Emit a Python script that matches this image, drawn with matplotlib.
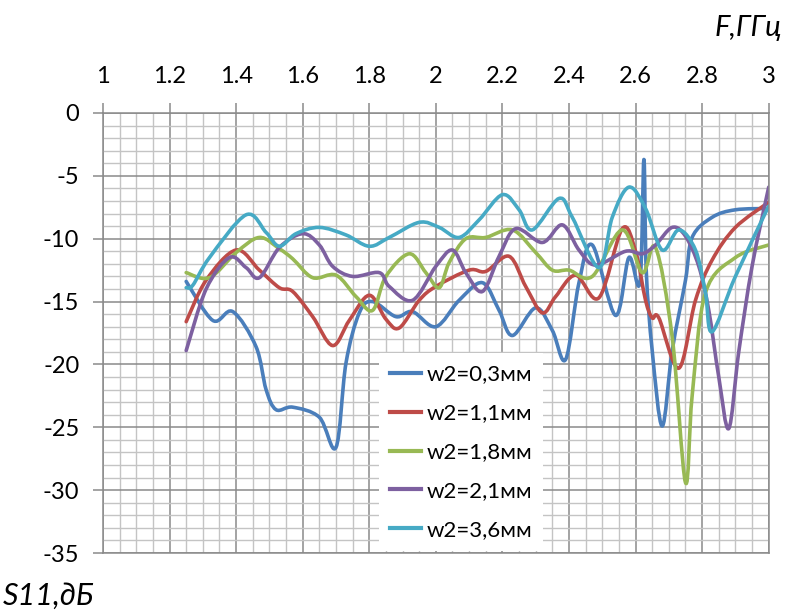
import numpy as np
import matplotlib
matplotlib.use("Agg")
import matplotlib.pyplot as plt
from matplotlib.path import Path
from matplotlib.patches import PathPatch
from matplotlib.lines import Line2D

plt.rcParams['font.family'] = ['Lato', 'DejaVu Sans']

# --- data (F in GHz, S11 in dB) ---
f_03 = [1.25, 1.33, 1.39, 1.46, 1.49, 1.52, 1.57, 1.65, 1.70, 1.73, 1.77, 1.81, 1.88, 1.93,
        2.00, 2.07, 2.14, 2.19, 2.23, 2.30, 2.35, 2.39, 2.43, 2.47, 2.54, 2.58, 2.613, 2.625,
        2.632, 2.65, 2.68, 2.71, 2.75, 2.77, 2.83, 2.90, 3.00]
s_03 = [-13.4, -16.5, -15.8, -18.6, -22.0, -23.6, -23.4, -24.2, -26.6, -19.9, -15.9, -15.0, -16.2, -15.8,
        -17.0, -14.9, -13.5, -15.7, -17.7, -15.5, -17.3, -19.6, -13.5, -10.5, -16.1, -11.5, -13.5, -3.7,
        -12.5, -18.9, -24.9, -18.9, -13.3, -9.9, -8.3, -7.7, -7.6]

f_11 = [1.25, 1.31, 1.40, 1.47, 1.53, 1.57, 1.63, 1.69, 1.74, 1.80, 1.85, 1.89, 1.95, 2.00,
        2.10, 2.15, 2.22, 2.27, 2.32, 2.36, 2.42, 2.49, 2.56, 2.60, 2.63, 2.65, 2.67, 2.73,
        2.78, 2.83, 2.90, 3.00]
s_11 = [-16.6, -13.3, -10.9, -12.5, -13.9, -14.2, -16.2, -18.5, -16.5, -14.5, -16.4, -17.1, -14.9, -13.8,
        -12.5, -12.6, -11.4, -13.8, -15.9, -14.6, -12.9, -14.7, -9.2, -11.0, -14.9, -16.3, -16.3, -20.3,
        -14.9, -11.7, -9.1, -7.1]

f_18 = [1.25, 1.32, 1.40, 1.47, 1.53, 1.57, 1.63, 1.70, 1.76, 1.81, 1.85, 1.92, 1.97, 2.01,
        2.04, 2.09, 2.15, 2.23, 2.30, 2.35, 2.40, 2.47, 2.56, 2.62, 2.66, 2.71, 2.75, 2.77,
        2.81, 2.90, 3.00]
s_18 = [-12.7, -13.1, -11.1, -9.9, -10.8, -11.6, -13.1, -12.9, -14.6, -15.7, -13.0, -11.2, -12.7, -13.9,
        -11.9, -10.0, -9.9, -9.3, -11.1, -12.5, -12.5, -13.0, -9.3, -12.7, -10.7, -17.8, -29.4, -22.5,
        -14.3, -11.5, -10.5]

f_21 = [1.25, 1.31, 1.38, 1.43, 1.47, 1.53, 1.60, 1.65, 1.69, 1.75, 1.83, 1.86, 1.93, 2.00,
        2.05, 2.09, 2.14, 2.19, 2.24, 2.32, 2.38, 2.43, 2.48, 2.57, 2.62, 2.66, 2.71, 2.75,
        2.79, 2.82, 2.85, 2.88, 2.91, 2.95, 3.00]
s_21 = [-18.9, -14.0, -11.5, -12.3, -13.1, -10.7, -9.6, -10.5, -12.2, -13.0, -12.7, -13.8, -14.9, -12.2,
        -10.9, -12.7, -14.2, -11.4, -9.2, -10.3, -8.9, -10.9, -12.1, -11.0, -11.2, -10.5, -9.1, -9.8,
        -12.2, -15.7, -21.0, -25.1, -19.0, -12.2, -5.9]

f_36 = [1.25, 1.27, 1.32, 1.43, 1.49, 1.53, 1.58, 1.65, 1.73, 1.80, 1.86, 1.95, 2.01, 2.07,
        2.13, 2.20, 2.25, 2.29, 2.37, 2.41, 2.49, 2.53, 2.58, 2.63, 2.68, 2.73, 2.78, 2.81,
        2.83, 2.90, 3.00]
s_36 = [-13.9, -13.7, -11.5, -8.1, -9.5, -10.6, -9.6, -9.1, -9.7, -10.6, -9.9, -8.7, -9.1, -9.9,
        -8.5, -6.5, -7.7, -9.3, -6.8, -8.3, -12.3, -8.3, -5.9, -7.6, -10.9, -9.3, -10.9, -14.3,
        -17.4, -13.0, -7.4]

labels = ['w2=0,3мм', 'w2=1,1мм', 'w2=1,8мм', 'w2=2,1мм', 'w2=3,6мм']
colors = ['#4a7ebb', '#be4b48', '#98b954', '#7d60a0', '#46aac5']
series = [(f_03, s_03), (f_11, s_11), (f_18, s_18), (f_21, s_21), (f_36, s_36)]

x_ticks = [1, 1.2, 1.4, 1.6, 1.8, 2, 2.2, 2.4, 2.6, 2.8, 3]
x_tick_labels = ['1', '1.2', '1.4', '1.6', '1.8', '2', '2.2', '2.4', '2.6', '2.8', '3']
y_ticks = [0, -5, -10, -15, -20, -25, -30, -35]
y_tick_labels = ['0', '-5', '-10', '-15', '-20', '-25', '-30', '-35']


def smooth_path(x, y):
    # Excel-style smoothed line: Bezier segments through the data points
    pts = np.column_stack([x, y]).astype(float)
    n = len(pts)
    verts = [pts[0]]
    codes = [Path.MOVETO]
    for i in range(n - 1):
        p0 = pts[i - 1] if i > 0 else pts[i]
        p1 = pts[i]
        p2 = pts[i + 1]
        p3 = pts[i + 2] if i + 2 < n else pts[i + 1]
        verts += [p1 + (p2 - p0) / 6, p2 - (p3 - p1) / 6, p2]
        codes += [Path.CURVE4] * 3
    return Path(verts, codes)


fig = plt.figure(figsize=(7.86, 6.15), dpi=100)
ax = fig.add_axes([0.131, 0.1008, 0.847, 0.7155])

ax.set_xlim(1, 3)
ax.set_ylim(-35, 0)

ax.set_xticks(x_ticks)
ax.set_xticklabels(x_tick_labels)
ax.set_xticks(np.arange(1, 3.0001, 0.05), minor=True)
ax.set_yticks(y_ticks)
ax.set_yticklabels(y_tick_labels)
ax.set_yticks(np.arange(-35, 0.001, 1), minor=True)

ax.xaxis.tick_top()
ax.grid(which='minor', color='#c4c4c4', lw=1.0)
ax.grid(which='major', color='#8a8a8a', lw=1.1)
ax.set_axisbelow(True)
ax.tick_params(which='major', length=7, width=1.1, color='#8a8a8a', labelsize=17)
ax.tick_params(axis='x', which='major', pad=12)
ax.tick_params(axis='y', which='major', pad=10)
ax.tick_params(which='minor', length=0)
for sp in ax.spines.values():
    sp.set_color('#8a8a8a')
    sp.set_linewidth(1.1)

handles = []
for (f, s), lab, col in zip(series, labels, colors):
    ax.add_patch(PathPatch(smooth_path(f, s), fill=False, edgecolor=col, lw=2.6,
                           capstyle='round', joinstyle='round'))
    handles.append(Line2D([], [], color=col, lw=3, label=lab))

leg = ax.legend(handles=handles, loc='lower left', bbox_to_anchor=(0.414, 0.004),
                fontsize=16, frameon=True, fancybox=False, framealpha=1,
                edgecolor='none', facecolor='white', handlelength=1.4,
                handletextpad=0.25, labelspacing=0.85, borderaxespad=0, borderpad=0.5)

fig.text(0.995, 0.955, 'F,ГГц', ha='right', va='center', fontsize=21, style='italic')
fig.text(0.003, 0.032, 'S11,дБ', ha='left', va='center', fontsize=22, style='italic')

fig.savefig('out.png', dpi=100)
